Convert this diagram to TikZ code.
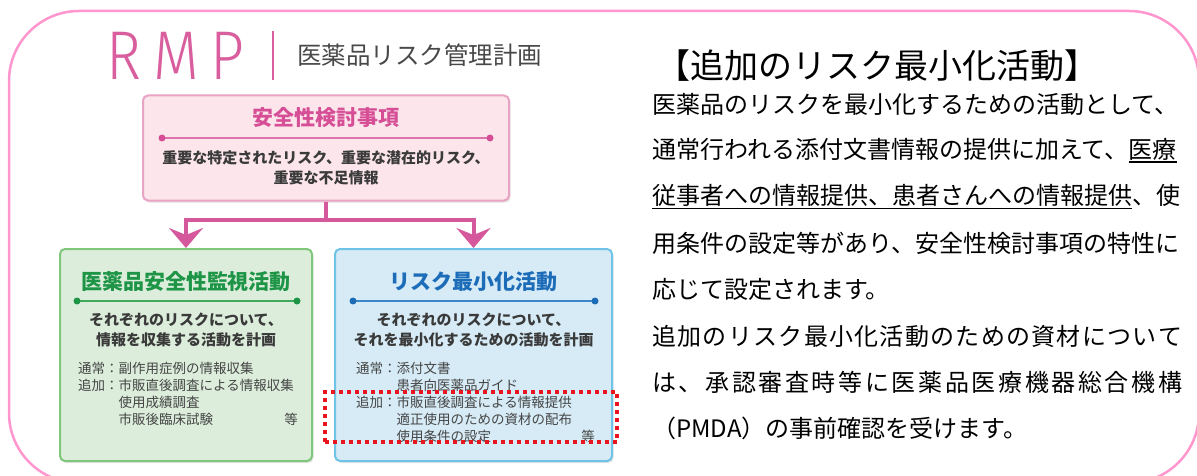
\documentclass[tikz,border=0pt]{standalone}
\usepackage{fontspec}
\setmainfont{Noto Sans CJK JP}
\newfontfamily\rmpfont{Fira Sans}[UprightFont={* Light}]
\usetikzlibrary{arrows.meta,shadows}
\definecolor{outerpink}{HTML}{FF96CE}
\definecolor{rmppink}{HTML}{D95E9E}
\definecolor{headgray}{HTML}{484848}
\definecolor{topfill}{HTML}{FCE6EC}
\definecolor{topborder}{HTML}{E9A3C4}
\definecolor{pinkT}{HTML}{D64F96}
\definecolor{conncol}{HTML}{D6589C}
\definecolor{greenfill}{HTML}{DCEEDB}
\definecolor{greenborder}{HTML}{80C77C}
\definecolor{greenT}{HTML}{1E9447}
\definecolor{greenline}{HTML}{3FAA5B}
\definecolor{bluefill}{HTML}{D6EBF6}
\definecolor{blueborder}{HTML}{6FC3E6}
\definecolor{blueT}{HTML}{1C6CB8}
\definecolor{blueline}{HTML}{3B87C7}
\definecolor{hlred}{HTML}{E8141E}
\definecolor{darktext}{HTML}{3A3A3A}
\definecolor{listtext}{HTML}{454545}
\newcommand\myul[1]{\vtop{\hbox{#1}\kern1pt\hrule height 1.4pt}}
% spread characters of a line over a fixed width
\def\sprA#1{\ifx\relax#1\unskip\else #1\hskip 0pt plus 1fil\relax\expandafter\sprA\fi}
\newcommand\spreadline[2]{\hbox to #1{\sprA#2\relax}}
\tikzset{
  panel/.style={rounded corners=5pt, line width=2pt, inner sep=0pt,
    drop shadow={opacity=0.22, shadow xshift=1.5pt, shadow yshift=-2pt}},
  ptitle/.style={font=\fontsize{21}{21}\selectfont\bfseries, inner sep=0pt},
  pbody/.style={align=center, font=\fontsize{15}{20}\selectfont\bfseries, text=darktext, inner sep=0pt},
  plist/.style={anchor=west, font=\fontsize{13.5}{17}\selectfont, text=listtext, inner sep=0pt},
  plistr/.style={anchor=east, font=\fontsize{13.5}{17}\selectfont, text=listtext, inner sep=0pt},
  dotline/.style={line width=1.3pt},
  conn/.style={conncol, line width=4pt, -{Stealth[length=20pt, width=34pt, inset=7pt]}},
  nline/.style={anchor=west, inner sep=0pt, font=\fontsize{24}{28}\selectfont},
}
\begin{document}
\begin{tikzpicture}[x=1pt,y=-1pt]
\useasboundingbox (0,0) rectangle (1197,476);
% outer frame
\draw[outerpink, line width=2.5pt, rounded corners=70pt] (9,11) rectangle (1199,483);
% header
\node[anchor=base west, inner sep=0pt, text=rmppink, font=\rmpfont\fontsize{69}{69}\selectfont] (rmp) at (106,80) {\scalebox{0.86}[1]{R\kern14pt M\kern14pt P}};
\coordinate (bartop) at (273,31);
\coordinate (barbot) at (273,80);
\draw[rmppink, line width=1.2pt] (bartop) -- (barbot);
\node[anchor=west, inner sep=0pt, text=headgray, font=\fontsize{24.5}{24.5}\selectfont] (head) at (297,55) {医薬品リスク管理計画};
% top panel
\node[panel, draw=topborder, fill=topfill, minimum width=366pt, minimum height=105pt] (top) at (326,148) {};
\node[ptitle, text=pinkT] (toptitle) at (326,118) {安全性検討事項};
\coordinate (tl1) at (162,138); \coordinate (tl2) at (490,138);
\draw[dotline, pinkT!80] (tl1) -- (tl2);
\fill[pinkT] (tl1) circle (3.5pt) (tl2) circle (3.5pt);
\node[pbody] (topbody) at (326,168) {重要な特定されたリスク、重要な潜在的リスク、\\重要な不足情報};
% green panel
\node[panel, draw=greenborder, fill=greenfill, minimum width=252pt, minimum height=212pt] (green) at (186,355) {};
\node[ptitle, text=greenT] (gtitle) at (186,282) {医薬品安全性監視活動};
\coordinate (gl1) at (77,301); \coordinate (gl2) at (297,301);
\draw[dotline, greenline] (gl1) -- (gl2);
\fill[greenT] (gl1) circle (3.5pt) (gl2) circle (3.5pt);
\node[pbody] (gbody) at (186,330) {それぞれのリスクについて、\\情報を収集する活動を計画};
\node[plist] (g1) at (78,368) {通常：副作用症例の情報収集};
\node[plist] (g2) at (78,385) {追加：市販直後調査による情報収集};
\node[plist] (g3) at (118.5,402) {使用成績調査};
\node[plist] (g4) at (118.5,419) {市販後臨床試験};
\node[plistr] (g5) at (298,419) {等};
% blue panel
\node[panel, draw=blueborder, fill=bluefill, minimum width=277pt, minimum height=212pt] (blue) at (473.5,355) {};
\node[ptitle, text=blueT] (btitle) at (473.5,282) {リスク最小化活動};
\coordinate (bl1) at (353,301); \coordinate (bl2) at (595,301);
\draw[dotline, blueline] (bl1) -- (bl2);
\fill[blueT] (bl1) circle (3.5pt) (bl2) circle (3.5pt);
\node[pbody] (bbody) at (473.5,330) {それぞれのリスクについて、\\それを最小化するための活動を計画};
\node[plist] (b1) at (356,368) {通常：添付文書};
\node[plist] (b2) at (396.5,385) {患者向医薬品ガイド};
\node[plist] (b3) at (356,402) {追加：市販直後調査による情報提供};
\node[plist] (b4) at (396.5,419) {適正使用のための資材の配布};
\node[plist] (b5) at (396.5,436) {使用条件の設定};
\node[plistr] (b6) at (595,436) {等};
% highlight
\node[draw=hlred, line width=4pt, dash pattern=on 4pt off 4pt, minimum width=292pt, minimum height=50pt, inner sep=0pt] (hl) at (471,417) {};
% connectors
\draw[conn] (top.south) -- ++(0,18) -| (green.north);
\draw[conn] (top.south) -- ++(0,18) -| (blue.north);
% right text
\node[anchor=west, inner sep=0pt, font=\fontsize{34}{34}\selectfont] (rtitle) at (656,66) {【追加のリスク最小化活動】};
\node[nline] (r1) at (652,104) {医薬品のリスクを最小化するための活動として、};
\node[nline] (r2) at (652,150.4) {通常行われる添付文書情報の提供に加えて、\myul{医療}};
\node[nline] (r3) at (652,196.8) {\myul{従事者への情報提供、患者さんへの情報提供}、使};
\node[nline] (r4) at (652,243.2) {用条件の設定等があり、安全性検討事項の特性に};
\node[nline] (r5) at (652,289.6) {応じて設定されます。};
\node[nline] (r6) at (652,336) {\spreadline{530pt}{追加のリスク最小化活動のための資材について}};
\node[nline] (r7) at (652,382.4) {\spreadline{530pt}{は、承認審査時等に医薬品医療機器総合機構}};
\node[nline] (r8) at (652,428.8) {（PMDA）の事前確認を受けます。};
\end{tikzpicture}
\end{document}
